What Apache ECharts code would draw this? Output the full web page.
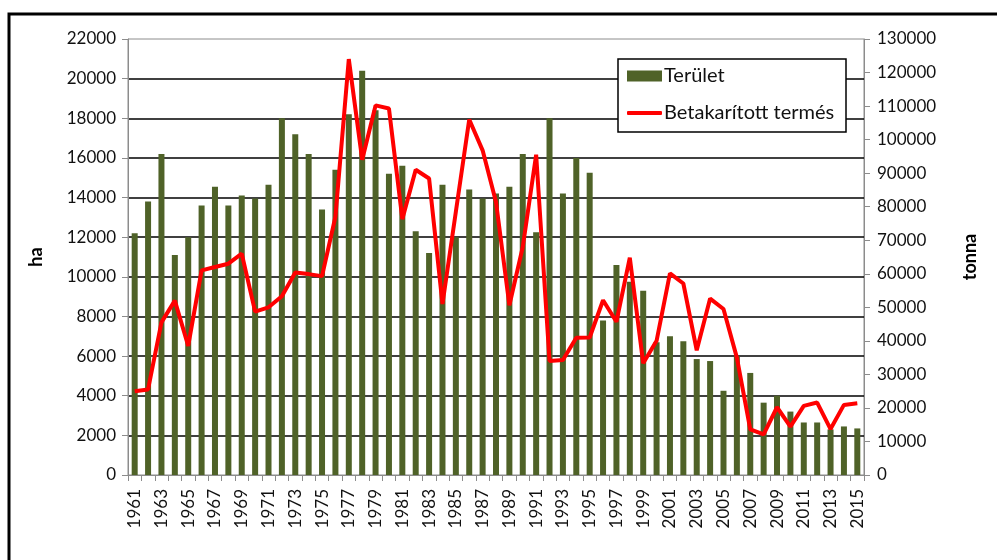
<!DOCTYPE html>
<html lang="hu">

<head>
    <meta charset="utf-8">
    <title>Terület és betakarított termés</title>
    <script src="https://cdn.jsdelivr.net/npm/echarts/dist/echarts.min.js"></script>
    <style>
        html, body { margin: 0; padding: 0; background: #fff; }
        #chart-container { width: 997px; height: 560px; }
    </style>
</head>

<body>
    <div id="chart-container"></div>

    <script>
        // évek (kategóriák)
        const years = [
            '1961', '1962', '1963', '1964', '1965', '1966', '1967', '1968', '1969', '1970',
            '1971', '1972', '1973', '1974', '1975', '1976', '1977', '1978', '1979', '1980',
            '1981', '1982', '1983', '1984', '1985', '1986', '1987', '1988', '1989', '1990',
            '1991', '1992', '1993', '1994', '1995', '1996', '1997', '1998', '1999', '2000',
            '2001', '2002', '2003', '2004', '2005', '2006', '2007', '2008', '2009', '2010',
            '2011', '2012', '2013', '2014', '2015'
        ];

        // Terület (ha)
        const terulet = [
            12200, 13800, 16200, 11100, 12000, 13600, 14550, 13600, 14100, 13950,
            14650, 18000, 17200, 16200, 13400, 15400, 18200, 20400, 18400, 15200,
            15600, 12300, 11200, 14650, 12000, 14400, 13950, 14200, 14550, 16200,
            12250, 18000, 14200, 16000, 15250, 7800, 10600, 9750, 9300, 6700,
            7000, 6750, 5850, 5750, 4250, 6000, 5150, 3650, 4000, 3200,
            2650, 2650, 2300, 2450, 2350
        ];

        // Betakarított termés (tonna)
        const termes = [
            25000, 25500, 45500, 52000, 38500, 61000, 62000, 63000, 66000, 48700,
            50000, 53300, 60400, 59900, 59300, 77000, 124000, 94000, 110200, 109300,
            76300, 91000, 88400, 51000, 78500, 106000, 96800, 81400, 50600, 68000,
            95500, 34000, 34300, 40900, 41000, 52100, 45700, 64800, 33300, 40000,
            60100, 57100, 37200, 52600, 49500, 35000, 13600, 12100, 20200, 14400,
            20600, 21600, 13700, 20900, 21400
        ];

        const FONT = 'Lato';
        const plain = v => String(v); // ezres elválasztó nélkül
        const chart = echarts.init(document.getElementById('chart-container'));

        const option = {
            animation: false,
            textStyle: { fontFamily: FONT },
            graphic: [{
                // külső keret
                type: 'rect',
                shape: { x: 9, y: 14, width: 1000, height: 600 },
                style: { fill: 'none', stroke: '#000', lineWidth: 3 },
                silent: true
            }, {
                // jelmagyarázat kerete
                type: 'rect',
                shape: { x: 618, y: 59, width: 228, height: 73 },
                style: { fill: '#fff', stroke: '#000', lineWidth: 1.5 },
                silent: true,
                z: 5
            }],
            grid: {
                left: 128, right: 133, top: 39, bottom: 85,
                show: true, borderColor: '#8c8c8c', borderWidth: 1
            },
            legend: [{
                left: 627, top: 66,
                padding: 0,
                itemWidth: 35, itemHeight: 11,
                textStyle: { fontFamily: FONT, fontSize: 20, color: '#111', padding: [0, 0, 0, -3] },
                data: [{ name: 'Terület', icon: 'rect' }],
                z: 6
            }, {
                left: 627, top: 103,
                padding: 0,
                itemWidth: 35, itemHeight: 4,
                textStyle: { fontFamily: FONT, fontSize: 20, color: '#111', padding: [0, 0, 0, -3] },
                data: [{ name: 'Betakarított termés', icon: 'roundRect' }],
                z: 6
            }],
            xAxis: {
                type: 'category',
                data: years,
                boundaryGap: true,
                axisLine: { lineStyle: { color: '#8c8c8c', width: 1 } },
                axisTick: { show: true, length: 6, interval: 0, lineStyle: { color: '#8c8c8c' } },
                axisLabel: { interval: 1, rotate: 90, margin: 14, fontSize: 17, color: '#111' },
                splitLine: { show: false }
            },
            yAxis: [{
                type: 'value',
                name: 'ha',
                nameLocation: 'middle',
                nameRotate: 90,
                nameGap: 83,
                nameTextStyle: { fontWeight: 'bold', fontSize: 18, color: '#000' },
                min: 0, max: 22000, interval: 2000,
                axisLine: { show: true, lineStyle: { color: '#8c8c8c' } },
                axisTick: { show: true, length: 6, lineStyle: { color: '#8c8c8c' } },
                axisLabel: { margin: 12, fontSize: 17, color: '#111', formatter: plain },
                splitLine: { show: true, showMinLine: false, showMaxLine: false, lineStyle: { color: '#000', width: 1.5 } }
            }, {
                type: 'value',
                name: 'tonna',
                nameLocation: 'middle',
                nameRotate: 90,
                nameGap: 97,
                nameTextStyle: { fontWeight: 'bold', fontSize: 18, color: '#000' },
                min: 0, max: 130000, interval: 10000,
                axisLine: { show: true, lineStyle: { color: '#8c8c8c' } },
                axisTick: { show: true, length: 6, lineStyle: { color: '#8c8c8c' } },
                axisLabel: { margin: 13, fontSize: 17, color: '#111', formatter: plain },
                splitLine: { show: false }
            }],
            series: [{
                name: 'Terület',
                type: 'bar',
                yAxisIndex: 0,
                data: terulet,
                barWidth: 6,
                itemStyle: { color: '#4f6228' },
                z: 2
            }, {
                name: 'Betakarított termés',
                type: 'line',
                yAxisIndex: 1,
                data: termes,
                symbol: 'none',
                lineStyle: { color: '#ff0000', width: 4 },
                itemStyle: { color: '#ff0000' },
                z: 3
            }]
        };
        chart.setOption(option);
    </script>
</body>

</html>
